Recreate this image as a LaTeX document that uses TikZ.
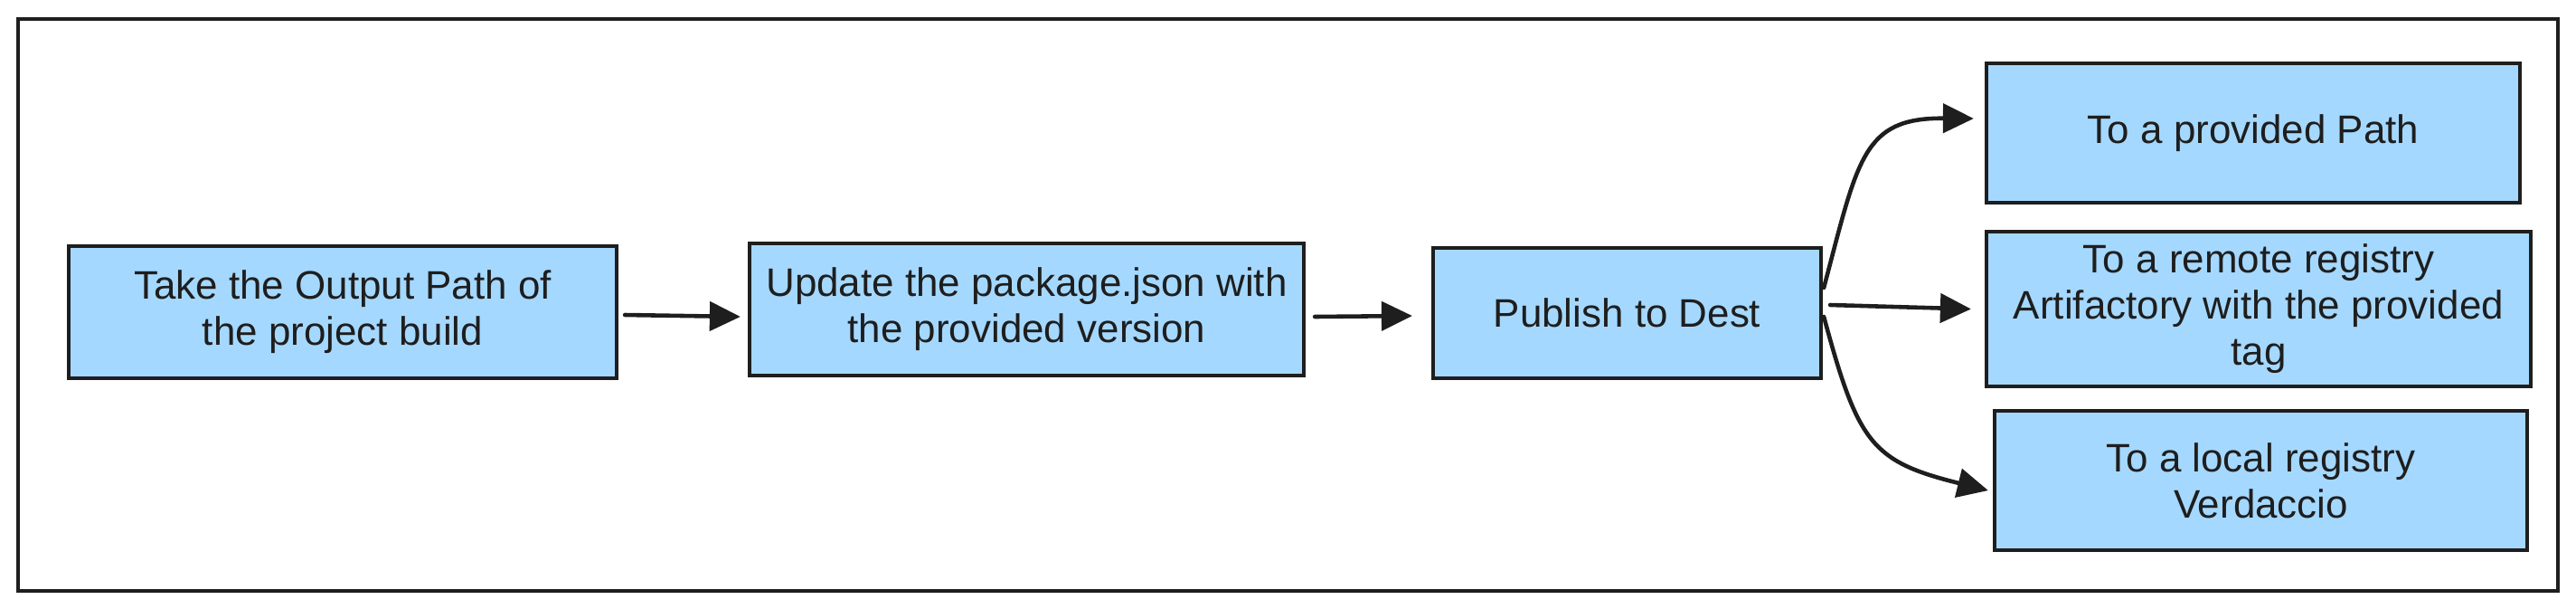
\documentclass[tikz,border=0pt]{standalone}
\usepackage{fontspec}
\setmainfont{Liberation Sans}
\usetikzlibrary{arrows.meta}
\definecolor{boxfill}{HTML}{A5D8FF}
\definecolor{ink}{HTML}{1E1E1E}
\begin{document}
\begin{tikzpicture}[x=1cm,y=1cm,
  box/.style={draw=ink, fill=boxfill, line width=1.2pt, align=center,
    font=\fontsize{12.5}{14.5}\selectfont, text=ink, inner sep=0pt},
  conn/.style={draw=ink, line width=1.3pt, line cap=round,
    -{Triangle[length=0.34cm,width=0.32cm]}}]
\useasboundingbox (0,0) rectangle (28.49,-6.72);
\node[draw=ink, line width=1pt, minimum width=28.09cm, minimum height=6.32cm,
  inner sep=0pt] (frame) at (14.245,-3.37) {};
\node[box, minimum width=6.06cm, minimum height=1.46cm] (b1) at (3.79,-3.45)
  {Take the Output Path of\\the project build};
\node[box, minimum width=6.13cm, minimum height=1.46cm] (b2) at (11.355,-3.42)
  {Update the package.json with\\the provided version};
\node[box, minimum width=4.29cm, minimum height=1.44cm] (b3) at (17.995,-3.46)
  {Publish to Dest};
\node[box, minimum width=5.90cm, minimum height=1.54cm] (b4) at (24.92,-1.47)
  {To a provided Path};
\node[box, minimum width=6.02cm, minimum height=1.71cm] (b5) at (24.98,-3.415)
  {To a remote registry\\Artifactory with the provided\\tag};
\node[box, minimum width=5.89cm, minimum height=1.54cm] (b6) at (25.005,-5.31)
  {To a local registry\\Verdaccio};
\draw[conn] ([xshift=0.07cm,yshift=-0.03cm]b1.east) -- ([xshift=-0.08cm,yshift=-0.08cm]b2.west);
\draw[conn] ([xshift=0.10cm,yshift=-0.08cm]b2.east) -- ([xshift=-0.21cm,yshift=-0.03cm]b3.west);
\draw[conn] ([xshift=0.01cm,yshift=0.28cm]b3.east) .. controls (20.55,-1.75) and (20.6,-1.3) .. ([xshift=-0.12cm,yshift=0.16cm]b4.west);
\draw[conn] ([xshift=0.08cm,yshift=0.09cm]b3.east) -- ([xshift=-0.15cm]b5.west);
\draw[conn] ([xshift=0.01cm,yshift=-0.04cm]b3.east) .. controls (20.55,-4.9) and (20.7,-5.1) .. ([xshift=-0.05cm,yshift=-0.11cm]b6.west);
\end{tikzpicture}
\end{document}
